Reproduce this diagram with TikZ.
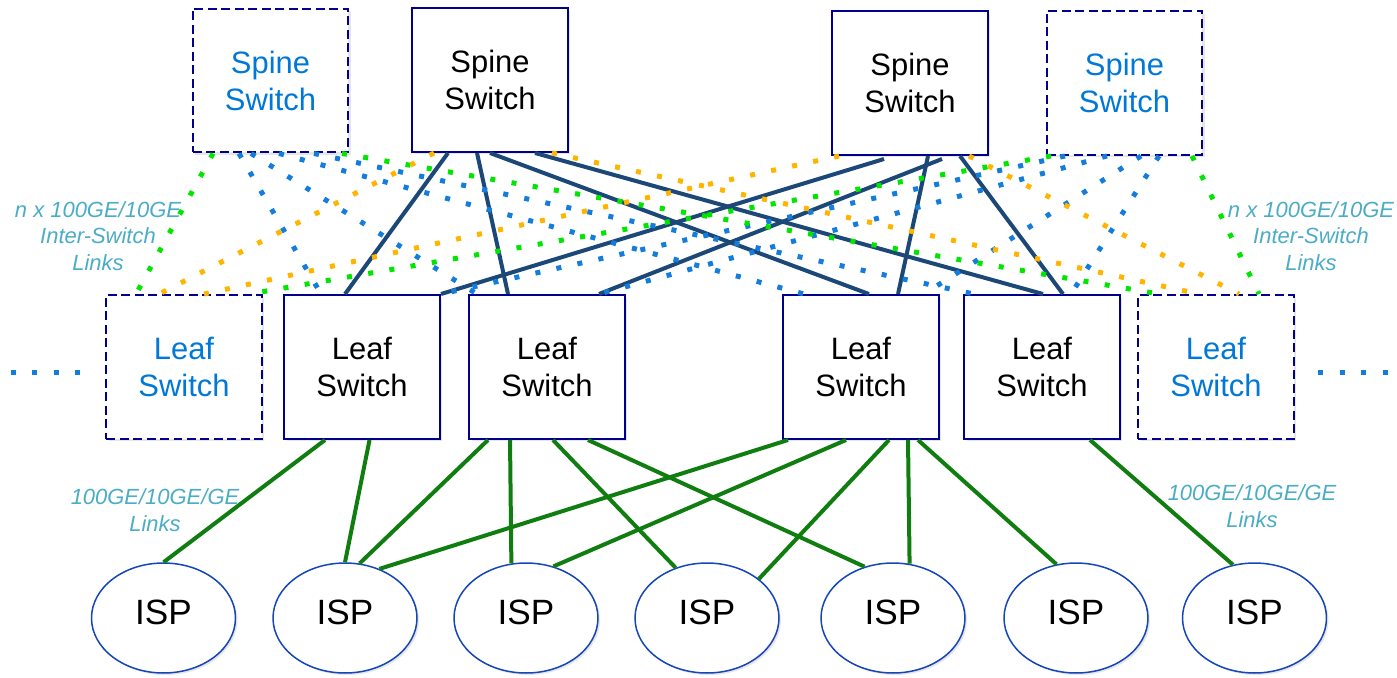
\documentclass[tikz,border=0pt]{standalone}
\usepackage{fontspec}
\setmainfont{Liberation Sans}
\usetikzlibrary{shapes.geometric,shadows}

\definecolor{boxnavy}{RGB}{0,0,140}
\definecolor{ispblue}{RGB}{20,70,185}
\definecolor{textblue}{RGB}{0,120,215}
\definecolor{labelteal}{RGB}{75,172,198}
\definecolor{uplinknavy}{RGB}{28,72,120}
\definecolor{downgreen}{RGB}{16,125,16}
\definecolor{meshblue}{RGB}{20,125,220}
\definecolor{meshgreen}{RGB}{0,230,0}
\definecolor{meshorange}{RGB}{255,180,0}

\newcommand{\px}{0.02cm}

\tikzset{
  switch/.style={draw=boxnavy, line width=0.04cm, fill=white, inner sep=0pt,
    minimum width=3.12cm, minimum height=2.88cm, align=center,
    font=\fontsize{17.6}{21}\selectfont,
    drop shadow={shadow xshift=0.05cm, shadow yshift=-0.05cm, opacity=0.2}},
  spare/.style={switch, dash pattern=on 0.18cm off 0.09cm, text=textblue},
  isp/.style={ellipse, draw=ispblue, line width=0.03cm, fill=white, inner sep=0pt,
    minimum width=2.88cm, minimum height=2.2cm, text depth=0.24cm,
    font=\fontsize{20}{24}\selectfont,
    drop shadow={shadow xshift=0.04cm, shadow yshift=-0.04cm, opacity=0.2}},
  linklabel/.style={text=labelteal, align=center, font=\fontsize{12.5}{15}\selectfont\itshape},
  uplink/.style={draw=uplinknavy, line width=0.08cm},
  downlink/.style={draw=downgreen, line width=0.08cm},
  mesh/.style={line width=0.1cm, dash pattern=on 0.1cm off 0.33cm},
  mesh blue/.style={mesh, draw=meshblue},
  mesh green/.style={mesh, draw=meshgreen},
  mesh orange/.style={mesh, draw=meshorange}
}

\begin{document}
\begin{tikzpicture}[x=0.02cm,y=-0.02cm]
	\useasboundingbox (0,0) rectangle (1397,677);

	% spines
	\node[spare]  (sp1) at (270.5,80.5) {Spine\\Switch};
	\node[switch] (sp2) at (490,80) {Spine\\Switch};
	\node[switch] (sp3) at (910,83) {Spine\\Switch};
	\node[spare]  (sp4) at (1124.5,83) {Spine\\Switch};

	% leaves
	\node[spare]  (lf1) at (184,367) {Leaf\\Switch};
	\node[switch] (lf2) at (362,367) {Leaf\\Switch};
	\node[switch] (lf3) at (547,367) {Leaf\\Switch};
	\node[switch] (lf4) at (861,367) {Leaf\\Switch};
	\node[switch] (lf5) at (1042,367) {Leaf\\Switch};
	\node[spare]  (lf6) at (1216,367) {Leaf\\Switch};

	% ISPs
	\foreach \n/\x in {1/163.5,2/345,3/526,4/707,5/893,6/1076,7/1254.5}
		\node[isp] (isp\n) at (\x,618) {ISP};

	% labels
	\node[linklabel] (islLeft) at (98,236) {n x 100GE/10GE\\Inter-Switch\\Links};
	\node[linklabel] (islRight) at (1311,236) {n x 100GE/10GE\\Inter-Switch\\Links};
	\node[linklabel] (accLeft) at (155,510) {100GE/10GE/GE\\Links};
	\node[linklabel] (accRight) at (1252,506) {100GE/10GE/GE\\Links};

	% leaf to ISP links
	\draw[downlink] ([xshift=42*\px]lf2.south west) -- (isp1.north);
	\draw[downlink] ([xshift=86.5*\px]lf2.south west) -- (isp2.north);
	\draw[downlink] ([xshift=20*\px]lf3.south west) -- (isp2.75);
	\draw[downlink] ([xshift=42*\px]lf3.south west) -- (isp3.105);
	\draw[downlink] ([xshift=85*\px]lf3.south west) -- (isp4.122);
	\draw[downlink] ([xshift=120*\px]lf3.south west) -- (isp5.119);
	\draw[downlink] ([xshift=6*\px]lf4.south west) -- (isp2.55);
	\draw[downlink] ([xshift=64*\px]lf4.south west) -- (isp3.62);
	\draw[downlink] ([xshift=107*\px]lf4.south west) -- (isp4.37);
	\draw[downlink] ([xshift=126*\px]lf4.south west) -- (isp5.73);
	\draw[downlink] ([xshift=136*\px]lf4.south west) -- (isp6.110);
	\draw[downlink] ([xshift=127*\px]lf5.south west) -- (isp7.112);

	% spine to leaf links
	\draw[uplink] ([xshift=37*\px]sp2.south west) -- ([xshift=62*\px]lf2.north west);
	\draw[uplink] ([xshift=66*\px]sp2.south west) -- ([xshift=40*\px]lf3.north west);
	\draw[uplink] ([xshift=79*\px]sp2.south west) -- ([xshift=87*\px]lf4.north west);
	\draw[uplink] ([xshift=124*\px]sp2.south west) -- ([xshift=80*\px]lf5.north west);
	\draw[uplink] ([xshift=53*\px,yshift=-3*\px]sp3.south west) -- (lf2.north east);
	\draw[uplink] ([xshift=111*\px,yshift=-3*\px]sp3.south west) -- ([xshift=131*\px]lf3.north west);
	\draw[uplink] ([xshift=97*\px]sp3.south west) -- ([xshift=116*\px]lf4.north west);
	\draw[uplink] ([xshift=129*\px]sp3.south west) -- ([xshift=100*\px]lf5.north west);

	% inter-switch mesh
	\draw[mesh blue] ([xshift=47.5*\px]sp1.south west) -- ([xshift=38*\px]lf2.north west);
	\draw[mesh blue] ([xshift=59.5*\px]sp1.south west) -- ([xshift=9*\px]lf3.north west);
	\draw[mesh blue] ([xshift=87.5*\px]sp1.south west) -- ([xshift=22*\px]lf4.north west);
	\draw[mesh blue] ([xshift=122.5*\px]sp1.south west) -- ([xshift=11*\px]lf5.north west);
	\draw[mesh blue] ([xshift=19.5*\px]sp4.south west) -- (lf2.north east);
	\draw[mesh blue] ([xshift=61.5*\px]sp4.south west) -- ([xshift=131*\px]lf3.north west);
	\draw[mesh blue] ([xshift=95.5*\px]sp4.south west) -- ([xshift=142*\px]lf4.north west);
	\draw[mesh blue] ([xshift=113.5*\px]sp4.south west) -- ([xshift=108*\px]lf5.north west);

	\draw[mesh green] ([xshift=21.5*\px]sp1.south west) -- ([xshift=31*\px]lf1.north west);
	\draw[mesh green] ([xshift=150.5*\px]sp1.south west) -- ([xshift=22*\px]lf6.north west);
	\draw[mesh green] ([xshift=5.5*\px]sp4.south west) -- ([xshift=144*\px]lf1.north west);
	\draw[mesh green] ([xshift=146.5*\px]sp4.south west) -- ([xshift=122*\px]lf6.north west);

	\draw[mesh orange] ([xshift=23*\px]sp2.south west) -- ([xshift=54*\px]lf1.north west);
	\draw[mesh orange] ([xshift=141*\px]sp2.south west) -- ([xshift=62*\px]lf6.north west);
	\draw[mesh orange] ([xshift=8*\px]sp3.south west) -- ([xshift=99*\px]lf1.north west);
	\draw[mesh orange] ([xshift=138*\px]sp3.south west) -- ([xshift=102*\px]lf6.north west);

	% more leaves on both sides
	\coordinate (moreA) at (11,372);
	\coordinate (moreB) at (84,372);
	\coordinate (moreC) at (1318,372);
	\coordinate (moreD) at (1391,372);
	\draw[mesh blue] (moreA) -- (moreB);
	\draw[mesh blue] (moreC) -- (moreD);
\end{tikzpicture}
\end{document}
